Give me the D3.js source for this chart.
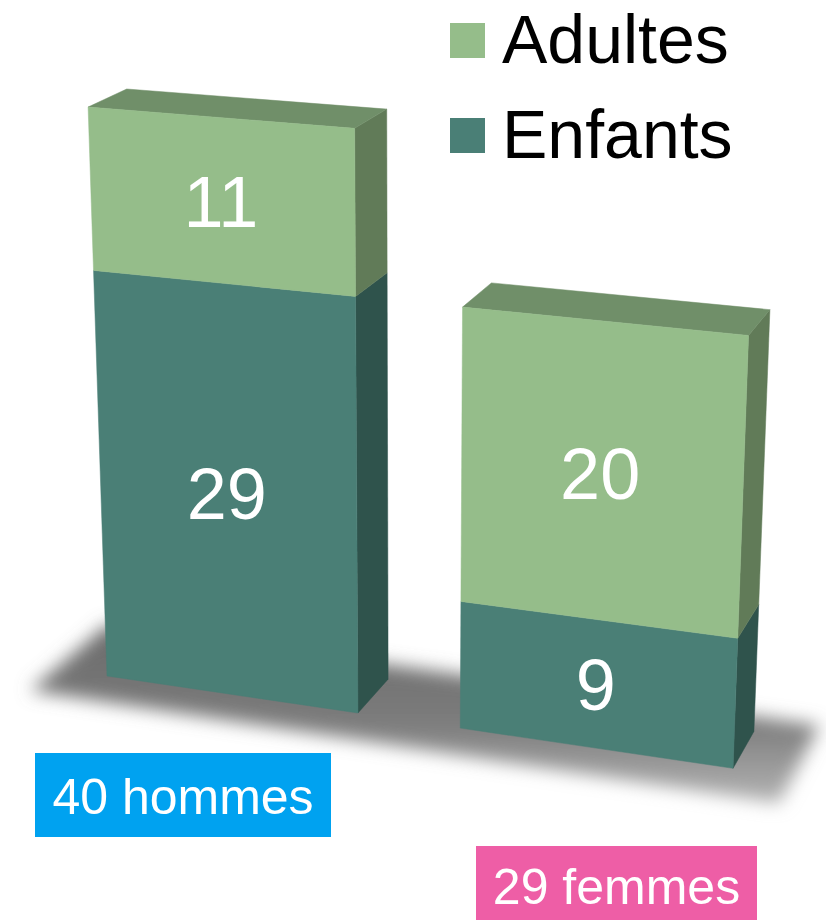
<!DOCTYPE html>
<html>
<head>
<meta charset="utf-8">
<script src="https://cdn.jsdelivr.net/npm/d3@7"></script>
<style>
  html, body { margin: 0; padding: 0; background: #fff; }
  svg { display: block; font-family: "Liberation Sans", Arial, sans-serif; }
</style>
</head>
<body>
<div id="chart"></div>
<script>
// data
const categories = ['40 hommes', '29 femmes']
const adultes = [11, 20]
const enfants = [29, 9]
const seriesKeys = ['Enfants', 'Adultes']
const legendOrder = ['Adultes', 'Enfants']

const width = 826
const height = 920

// colours: front, side, top
const palette = {
  Adultes: { front: '#95bd8a', side: '#617b58', top: '#708f69' },
  Enfants: { front: '#4a7f76', side: '#2f534c', top: '#3d6a62' }
}
const labelColors = ['#00a2f0', '#ee5ea6']

// three-point perspective: vanishing points of the world x, y and z axes
const VPX = [-8290, -562]
const VPY = [410, 9800]
const VPZ = [1472, -539]
const ORIGIN = [107, 676]
const KX = -0.02902
const KY = -0.0587
const KZ = 0.027

function project(X, Y, Z) {
  const a = KX * X, b = KY * Y, c = KZ * Z
  const w = 1 + a + b + c
  return [
    (a * VPX[0] + b * VPY[0] + c * VPZ[0] + ORIGIN[0]) / w,
    (a * VPX[1] + b * VPY[1] + c * VPZ[1] + ORIGIN[1]) / w
  ]
}

const rows = categories.map((c, i) => ({ cat: c, Adultes: adultes[i], Enfants: enfants[i] }))
const stacked = d3.stack().keys(seriesKeys)(rows)

// world scales (bar width = 1, depth = 1)
const x = d3.scaleBand().domain(categories).range([0, 2.391]).paddingInner(0.2811).paddingOuter(0)
const y = d3.scaleLinear().domain([0, 40]).range([0, 1])

const svg = d3.select('#chart').append('svg')
  .attr('xmlns', 'http://www.w3.org/2000/svg')
  .attr('width', width)
  .attr('height', height)
  .attr('viewBox', `0 0 ${width} ${height}`)

const defs = svg.append('defs')
defs.append('filter').attr('id', 'soft').attr('x', '-20%').attr('y', '-40%').attr('width', '140%').attr('height', '180%')
  .append('feGaussianBlur').attr('stdDeviation', 9)
const grad = defs.append('linearGradient').attr('id', 'floor').attr('x1', 0).attr('y1', 0).attr('x2', 0).attr('y2', 1)
grad.append('stop').attr('offset', '0%').attr('stop-color', '#6a6a6a')
grad.append('stop').attr('offset', '55%').attr('stop-color', '#7c7c7c')
grad.append('stop').attr('offset', '100%').attr('stop-color', '#b4b4b4')

const poly = d3.line()
const quad = (pts) => poly(pts.map((p) => project(...p))) + 'Z'

// floor shadow
const fx0 = x(categories[0]) - 0.21
const fx1 = x(categories[1]) + x.bandwidth() + 0.21
svg.append('path')
  .attr('d', quad([[fx0, 0, -0.67], [fx1, 0, -0.67], [fx1, 0, 1.4], [fx0, 0, 1.4]]))
  .attr('fill', 'url(#floor)')
  .attr('filter', 'url(#soft)')

const g = svg.append('g')

categories.forEach((cat, i) => {
  const x0 = x(cat)
  const x1 = x0 + x.bandwidth()
  const bar = g.append('g').attr('class', 'bar')
  stacked.forEach((layer, li) => {
    const d = layer[i]
    const y0 = y(d[0]), y1 = y(d[1])
    const col = palette[layer.key]
    bar.append('path')
      .attr('d', quad([[x1, y0, 0], [x1, y0, 1], [x1, y1, 1], [x1, y1, 0]]))
      .attr('fill', col.side).attr('stroke', col.side).attr('stroke-width', 0.5)
    if (li === stacked.length - 1) {
      bar.append('path')
        .attr('d', quad([[x0, y1, 0], [x1, y1, 0], [x1, y1, 1], [x0, y1, 1]]))
        .attr('fill', col.top).attr('stroke', col.top).attr('stroke-width', 0.5)
    }
    bar.append('path')
      .attr('d', quad([[x0, y0, 0], [x1, y0, 0], [x1, y1, 0], [x0, y1, 0]]))
      .attr('fill', col.front).attr('stroke', col.front).attr('stroke-width', 0.5)
  })
  stacked.forEach((layer) => {
    const d = layer[i]
    const c = project((x0 + x1) / 2, y((d[0] + d[1]) / 2), 0)
    bar.append('text')
      .attr('x', c[0]).attr('y', c[1]).attr('dy', '0.36em')
      .attr('text-anchor', 'middle')
      .attr('fill', '#fff').attr('font-size', 72)
      .text(d.data[layer.key])
  })
})

// legend
const legend = svg.append('g').attr('transform', 'translate(450,23)')
legendOrder.forEach((key, i) => {
  const item = legend.append('g').attr('transform', `translate(0,${i * 95})`)
  item.append('rect').attr('width', 35).attr('height', 35).attr('fill', palette[key].front)
  item.append('text').attr('x', 52).attr('y', 40).attr('font-size', 68).attr('fill', '#000').text(key)
})

// category labels
const labelBoxes = [
  { x: 35, y: 753, w: 296, h: 84 },
  { x: 476, y: 846, w: 281, h: 80 }
]
categories.forEach((cat, i) => {
  const b = labelBoxes[i]
  const lg = svg.append('g').attr('transform', `translate(${b.x},${b.y})`)
  lg.append('rect').attr('width', b.w).attr('height', b.h).attr('fill', labelColors[i])
  lg.append('text').attr('x', b.w / 2).attr('y', i === 0 ? 61 : 58)
    .attr('text-anchor', 'middle').attr('font-size', 50).attr('fill', '#fff').text(cat)
})
</script>
</body>
</html>
